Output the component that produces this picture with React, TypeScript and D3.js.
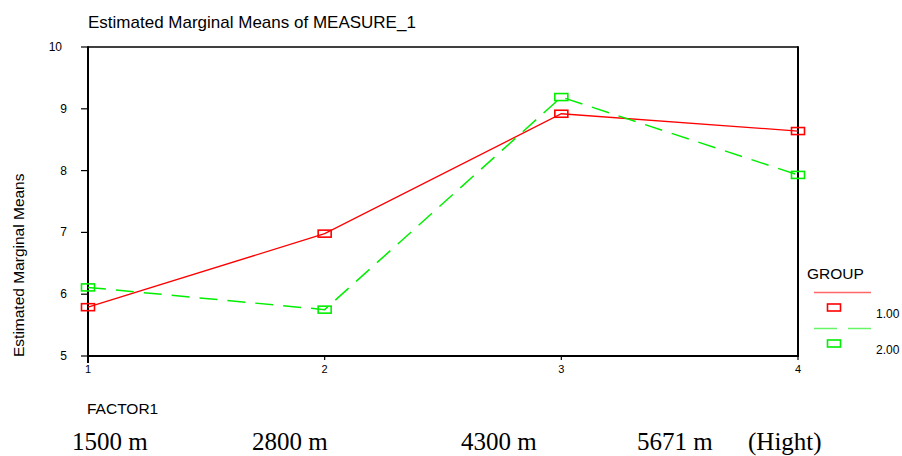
import React, { useEffect, useRef } from 'react'
import { select, scaleLinear, line } from 'd3'

// factor levels and estimated marginal means per group
const factorLevels = [1, 2, 3, 4]
const group1 = [5.79, 6.98, 8.92, 8.64]
const group2 = [6.11, 5.75, 9.19, 7.93]
const yTicks = [5, 6, 7, 8, 9, 10]
const groupNames = ['1.00', '2.00']
const heightLabels = ['1500 m', '2800 m', '4300 m', '5671 m', '(Hight)']

function App() {
  const ref = useRef<SVGSVGElement>(null)

  useEffect(() => {
    const W = 902, H = 456
    const margin = { left: 88, right: 798, top: 47, bottom: 356 }
    const sans = '"Liberation Sans", Arial, sans-serif'
    const serif = '"Liberation Serif", "Times New Roman", serif'

    const svg = select(ref.current)
    svg.selectAll('*').remove()
    svg.attr('width', W).attr('height', H)

    const x = scaleLinear().domain([1, 4]).range([margin.left, margin.right])
    const y = scaleLinear().domain([5, 10]).range([margin.bottom, margin.top])

    // title
    svg.append('text')
      .attr('x', 88).attr('y', 27.5)
      .attr('font-family', sans).attr('font-size', 17)
      .text('Estimated Marginal Means of MEASURE_1')

    // frame
    svg.append('line')
      .attr('x1', margin.left).attr('x2', margin.right)
      .attr('y1', margin.top).attr('y2', margin.top)
      .attr('stroke', '#000').attr('stroke-width', 1.5)
    svg.append('line')
      .attr('x1', margin.right).attr('x2', margin.right)
      .attr('y1', margin.top - 0.75).attr('y2', margin.bottom)
      .attr('stroke', '#000').attr('stroke-width', 2)
    svg.append('line')
      .attr('x1', margin.left).attr('x2', margin.right + 1)
      .attr('y1', margin.bottom).attr('y2', margin.bottom)
      .attr('stroke', '#000').attr('stroke-width', 2)
    svg.append('line')
      .attr('x1', margin.left).attr('x2', margin.left)
      .attr('y1', margin.top - 0.75).attr('y2', margin.bottom + 7)
      .attr('stroke', '#000').attr('stroke-width', 2)

    // y ticks
    const yt = svg.append('g')
    yTicks.forEach(t => {
      yt.append('line')
        .attr('x1', margin.left - 7).attr('x2', margin.left)
        .attr('y1', y(t)).attr('y2', y(t))
        .attr('stroke', '#000').attr('stroke-width', 1.2)
      yt.append('text')
        .attr('x', t === 10 ? 62 : 67).attr('y', y(t) + 4)
        .attr('text-anchor', 'end')
        .attr('font-family', sans).attr('font-size', 12)
        .text(t)
    })

    // x ticks
    const xt = svg.append('g')
    factorLevels.forEach(f => {
      xt.append('line')
        .attr('x1', x(f)).attr('x2', x(f))
        .attr('y1', margin.bottom).attr('y2', margin.bottom + 4)
        .attr('stroke', '#000').attr('stroke-width', 1.2)
      xt.append('text')
        .attr('x', x(f)).attr('y', 373)
        .attr('text-anchor', 'middle')
        .attr('font-family', sans).attr('font-size', 11)
        .text(f)
    })

    // y axis title
    svg.append('text')
      .attr('transform', 'translate(23.5,357) rotate(-90)')
      .attr('font-family', sans).attr('font-size', 15.5)
      .text('Estimated Marginal Means')

    // x axis title
    svg.append('text')
      .attr('x', 87).attr('y', 414)
      .attr('font-family', sans).attr('font-size', 15.5)
      .text('FACTOR1')

    const series = [
      { values: group1, color: '#ff0000', dash: null, width: 1.3 },
      { values: group2, color: '#00ee00', dash: '18,10', width: 1.5 },
    ]

    const path = line<number>()
      .x((_, i) => x(factorLevels[i]))
      .y(d => y(d))

    series.forEach(s => {
      svg.append('path')
        .attr('d', path(s.values))
        .attr('fill', 'none')
        .attr('stroke', s.color)
        .attr('stroke-width', s.width)
        .attr('stroke-dasharray', s.dash)
      svg.append('g').selectAll('rect')
        .data(s.values)
        .join('rect')
        .attr('x', (_, i) => x(factorLevels[i]) - 6.5)
        .attr('y', d => y(d) - 3.5)
        .attr('width', 13).attr('height', 7)
        .attr('fill', 'none')
        .attr('stroke', s.color)
        .attr('stroke-width', 1.6)
    })

    // legend
    const lg = svg.append('g')
    lg.append('text')
      .attr('x', 807).attr('y', 279)
      .attr('font-family', sans).attr('font-size', 15.5)
      .text('GROUP')
    series.forEach((s, i) => {
      const ly = 292.5 + i * 36
      lg.append('line')
        .attr('x1', 814).attr('x2', 871)
        .attr('y1', ly).attr('y2', ly)
        .attr('stroke', s.color).attr('stroke-opacity', 0.6)
        .attr('stroke-width', 1.5)
        .attr('stroke-dasharray', s.dash ? '23,11' : null)
      lg.append('rect')
        .attr('x', 827.5).attr('y', ly + 11.5)
        .attr('width', 13).attr('height', 7)
        .attr('fill', 'none')
        .attr('stroke', s.color).attr('stroke-width', 1.6)
      lg.append('text')
        .attr('x', 876).attr('y', ly + 25.5)
        .attr('font-family', sans).attr('font-size', 12)
        .text(groupNames[i])
    })

    // altitude labels typed under the chart
    const labelX = [72, 252, 461, 637, 748]
    svg.append('g').selectAll('text')
      .data(heightLabels)
      .join('text')
      .attr('x', (_, i) => labelX[i])
      .attr('y', 450)
      .attr('font-family', serif).attr('font-size', 25)
      .text(d => d)
  }, [])

  return (
    <div style={{ position: 'absolute', left: 0, top: 0, background: '#fff' }}>
      <svg ref={ref} style={{ display: 'block' }}></svg>
    </div>
  )
}

export default App
